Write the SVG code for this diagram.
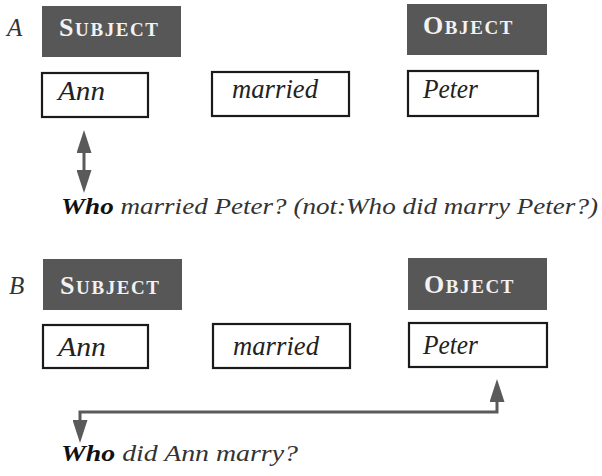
<svg xmlns="http://www.w3.org/2000/svg" width="602" height="476" viewBox="0 0 602 476">
<style>
.hdr{fill:#575757}
.hdrt{font-family:"Liberation Serif","Times New Roman",serif;font-weight:bold;fill:#f2f2f2;letter-spacing:1.6px}
.big{font-size:26px}
.sm{font-size:19px}
.box{fill:#fff;stroke:#1a1a1a;stroke-width:2.2}
.bt{font-family:"Liberation Serif","Times New Roman",serif;font-style:italic;font-size:27px;fill:#222}
.lbl{font-family:"Liberation Serif","Times New Roman",serif;font-style:italic;font-size:25px;fill:#333}
.q{font-family:"Liberation Serif","Times New Roman",serif;font-style:italic;font-size:23px;fill:#333}
.w{font-weight:bold;fill:#111}
.con{fill:none;stroke:#5a5a5a;stroke-width:3}
</style>
<defs>
<marker id="ah" markerUnits="userSpaceOnUse" markerWidth="23" markerHeight="15" refX="0" refY="7.5" orient="auto-start-reverse" viewBox="0 0 23 15">
<path d="M0,0 L23,7.5 L0,15 z" fill="#5a5a5a"/>
</marker>
</defs>
<rect width="602" height="476" fill="#fff"/>
<text class="lbl" x="7" y="36">A</text>
<text class="lbl" x="9" y="294">B</text>
<g id="subjA"><rect class="hdr" x="42" y="6" width="139" height="51"/><text class="hdrt" x="59" y="36"><tspan class="big">S</tspan><tspan class="sm">UBJECT</tspan></text></g>
<g id="objA"><rect class="hdr" x="407" y="4" width="140" height="51"/><text class="hdrt" x="423" y="34"><tspan class="big">O</tspan><tspan class="sm">BJECT</tspan></text></g>
<g id="annA"><rect class="box" x="42" y="73" width="106" height="44"/><text class="bt" x="58" y="100" textLength="47" lengthAdjust="spacingAndGlyphs">Ann</text></g>
<g id="marriedA"><rect class="box" x="212" y="72" width="137" height="44"/><text class="bt" x="232" y="98" textLength="86" lengthAdjust="spacingAndGlyphs">married</text></g>
<g id="peterA"><rect class="box" x="408" y="71" width="130" height="45"/><text class="bt" x="423" y="98" textLength="55" lengthAdjust="spacingAndGlyphs">Peter</text></g>
<g id="qA"><text class="q" x="61" y="214" textLength="537" lengthAdjust="spacingAndGlyphs"><tspan class="w">Who</tspan> married Peter? (not:Who did marry Peter?)</text></g>
<g id="subjB"><rect class="hdr" x="43" y="259" width="139" height="51"/><text class="hdrt" x="60" y="294"><tspan class="big">S</tspan><tspan class="sm">UBJECT</tspan></text></g>
<g id="objB"><rect class="hdr" x="408" y="258" width="139" height="52"/><text class="hdrt" x="424" y="293"><tspan class="big">O</tspan><tspan class="sm">BJECT</tspan></text></g>
<g id="annB"><rect class="box" x="43" y="325" width="105" height="43"/><text class="bt" x="58" y="356" textLength="48" lengthAdjust="spacingAndGlyphs">Ann</text></g>
<g id="marriedB"><rect class="box" x="213" y="324" width="137" height="44"/><text class="bt" x="233" y="355" textLength="86" lengthAdjust="spacingAndGlyphs">married</text></g>
<g id="peterB"><rect class="box" x="409" y="323" width="138" height="44"/><text class="bt" x="423" y="354" textLength="55" lengthAdjust="spacingAndGlyphs">Peter</text></g>
<g id="qB"><text class="q" x="61" y="461" textLength="237" lengthAdjust="spacingAndGlyphs"><tspan class="w">Who</tspan> did Ann marry?</text></g>
<g id="connectors">
<path class="con" d="M84,153 V170" marker-start="url(#ah)" marker-end="url(#ah)"/>
<path class="con" d="M497,402 V412 H80 V420" marker-start="url(#ah)" marker-end="url(#ah)"/>
</g>
</svg>
